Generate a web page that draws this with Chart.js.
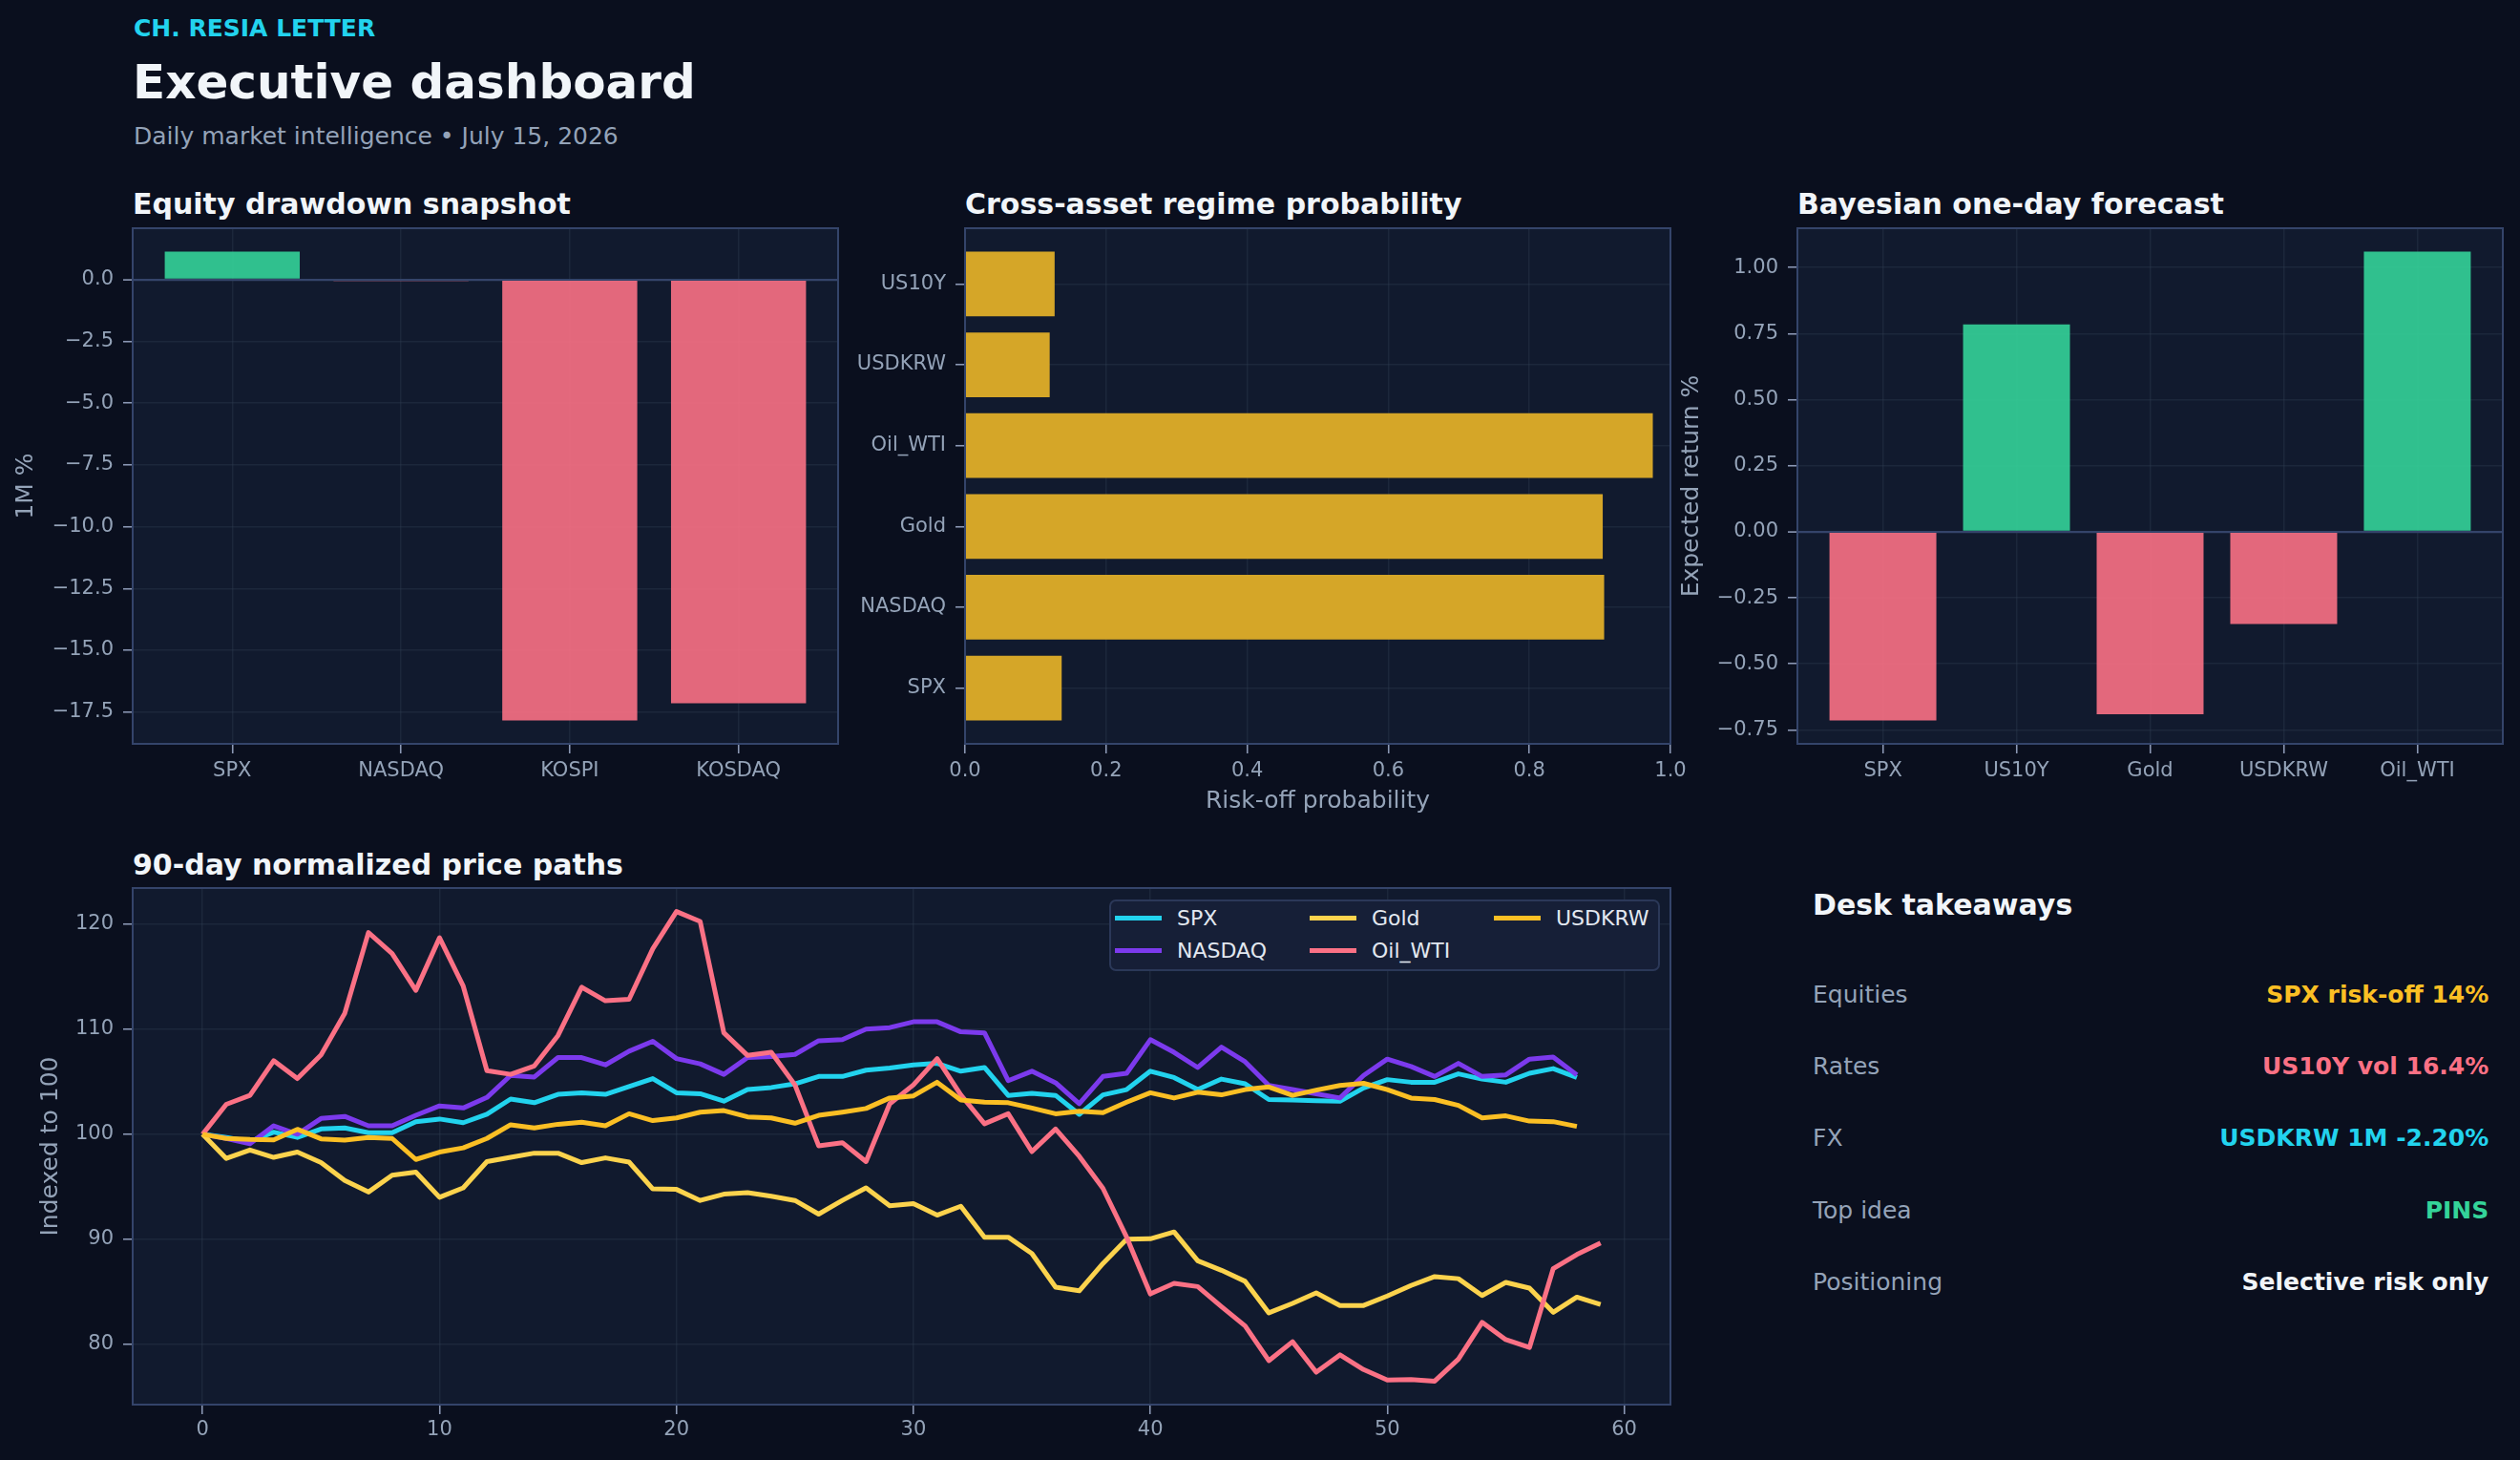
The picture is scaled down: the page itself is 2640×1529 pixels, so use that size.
<!DOCTYPE html>
<html>
<head>
<meta charset="utf-8">
<script src="https://cdn.jsdelivr.net/npm/chart.js@4.4.1/dist/chart.umd.min.js"></script>
<style>
html,body{margin:0;padding:0;background:#0a0f1e;}
#root{position:relative;width:2640px;height:1529px;overflow:hidden;background:#0a0f1e;font-family:"DejaVu Sans",sans-serif;}
.t{position:absolute;white-space:nowrap;line-height:1;}
canvas{position:absolute;}
.lg{position:absolute;left:1162px;top:942px;width:573px;height:71px;background:#161f37;border:2px solid #2b3858;border-radius:7px;}
.sw{position:absolute;height:5px;width:49px;}
</style>
</head>
<body>
<div id="root">
  <div class="t" style="left:140px;top:17px;font-size:25px;font-weight:bold;color:#22d3ee;">CH. RESIA LETTER</div>
  <div class="t" style="left:139px;top:60.7px;font-size:50px;font-weight:bold;color:#f1f5f9;">Executive dashboard</div>
  <div class="t" style="left:140px;top:130px;font-size:25px;color:#94a3b8;">Daily market intelligence • July 15, 2026</div>

  <div class="t" style="left:139px;top:198.6px;font-size:30px;font-weight:bold;color:#f1f5f9;">Equity drawdown snapshot</div>
  <div class="t" style="left:1011px;top:198.6px;font-size:30px;font-weight:bold;color:#f1f5f9;">Cross-asset regime probability</div>
  <div class="t" style="left:1883px;top:198.6px;font-size:30px;font-weight:bold;color:#f1f5f9;">Bayesian one-day forecast</div>
  <div class="t" style="left:139px;top:891px;font-size:30px;font-weight:bold;color:#f1f5f9;">90-day normalized price paths</div>

  <canvas id="c1" width="918" height="660" style="left:0px;top:200px;"></canvas>
  <canvas id="c2" width="920" height="660" style="left:870px;top:200px;"></canvas>
  <canvas id="c3" width="897" height="660" style="left:1743px;top:200px;"></canvas>
  <canvas id="c4" width="1790" height="639" style="left:0px;top:890px;"></canvas>

  <div class="lg"></div>
  <div id="legend"></div>

  <div class="t" style="left:1899px;top:932.9px;font-size:30px;font-weight:bold;color:#f1f5f9;">Desk takeaways</div>
  <div id="take"></div>
</div>
<script>
// ---------------- DATA ----------------
const equityLabels = ['SPX', 'NASDAQ', 'KOSPI', 'KOSDAQ'];
const equityValues = [1.13, -0.06, -17.84, -17.15];
const equityTicks = [0, -2.5, -5, -7.5, -10, -12.5, -15, -17.5];

const regimeLabels = ['SPX', 'NASDAQ', 'Gold', 'Oil_WTI', 'USDKRW', 'US10Y'];
const regimeValues = [0.137, 0.906, 0.904, 0.975, 0.120, 0.127];
const regimeTicks = [0, 0.2, 0.4, 0.6, 0.8, 1.0];

const forecastLabels = ['SPX', 'US10Y', 'Gold', 'USDKRW', 'Oil_WTI'];
const forecastValues = [-0.714, 0.785, -0.691, -0.349, 1.06];
const forecastTicks = [-0.75, -0.5, -0.25, 0, 0.25, 0.5, 0.75, 1.0];

const pathNames = ['SPX', 'NASDAQ', 'Gold', 'Oil_WTI', 'USDKRW'];
const spxPath = [100, 99.7, 99.3, 100.2, 99.7, 100.5, 100.6, 100.15, 100.15, 101.2, 101.45, 101.1, 101.9, 103.35, 103.0,
  103.8, 103.95, 103.8, 104.55, 105.3, 103.95, 103.85, 103.15, 104.25, 104.45, 104.8, 105.5, 105.5, 106.1, 106.3,
  106.6, 106.75, 106.0, 106.35, 103.7, 103.9, 103.7, 101.9, 103.75, 104.25, 106.0, 105.4, 104.25, 105.25,
  104.8, 103.3, 103.25, 103.2, 103.15, 104.4, 105.2, 104.95, 104.95, 105.75, 105.25, 104.95, 105.8, 106.25, 105.4];
const nasdaqPath = [100, 99.6, 99.1, 100.8, 100.0, 101.5, 101.7, 100.8, 100.8, 101.8, 102.7, 102.5, 103.5, 105.6, 105.45,
  107.3, 107.3, 106.6, 107.9, 108.85, 107.2, 106.7, 105.7, 107.3, 107.4, 107.6, 108.9, 109.0, 110.0, 110.15,
  110.7, 110.7, 109.75, 109.65, 105.1, 106.0, 104.9, 102.9, 105.5, 105.8, 109.0, 107.8, 106.35, 108.3,
  106.9, 104.65, 104.25, 103.85, 103.45, 105.6, 107.15, 106.45, 105.5, 106.75, 105.5, 105.65, 107.15, 107.35, 105.65];
const goldPath = [100, 97.7, 98.5, 97.8, 98.3, 97.3, 95.6, 94.5, 96.1, 96.4, 94.0, 94.9, 97.4, 97.8, 98.2,
  98.2, 97.3, 97.75, 97.35, 94.8, 94.75, 93.7, 94.3, 94.45, 94.1, 93.7, 92.4, 93.7, 94.9, 93.2,
  93.4, 92.3, 93.15, 90.2, 90.2, 88.65, 85.45, 85.1, 87.7, 90.0, 90.05, 90.7, 87.95, 87.05,
  86.0, 83.0, 83.9, 84.9, 83.7, 83.7, 84.6, 85.6, 86.45, 86.25, 84.65, 85.9, 85.35, 83.05, 84.5, 83.8];
const oilPath = [100, 102.85, 103.7, 107.0, 105.3, 107.55, 111.5, 119.2, 117.2, 113.7, 118.7, 114.1, 106.05, 105.7, 106.5,
  109.4, 114.0, 112.7, 112.85, 117.65, 121.2, 120.25, 109.65, 107.5, 107.8, 104.7, 98.9, 99.2, 97.4, 102.9,
  104.7, 107.2, 103.75, 101.0, 101.95, 98.35, 100.5, 97.9, 94.85, 90.2, 84.8, 85.8, 85.5, 83.6,
  81.75, 78.45, 80.25, 77.35, 79.0, 77.6, 76.6, 76.65, 76.5, 78.6, 82.1, 80.45, 79.7, 87.2, 88.55, 89.65];
const usdkrwPath = [100, 99.6, 99.5, 99.47, 100.47, 99.56, 99.44, 99.7, 99.6, 97.6, 98.3, 98.7, 99.6, 100.9, 100.6,
  100.95, 101.15, 100.8, 101.95, 101.3, 101.55, 102.1, 102.25, 101.65, 101.55, 101.05, 101.8, 102.1, 102.45, 103.45,
  103.65, 104.95, 103.25, 103.05, 103.0, 102.5, 101.95, 102.2, 102.05, 103.05, 103.95, 103.45, 104.0, 103.75,
  104.25, 104.5, 103.7, 104.2, 104.65, 104.85, 104.25, 103.45, 103.3, 102.75, 101.55, 101.75, 101.25, 101.2, 100.75];
const pathTicksX = [0, 10, 20, 30, 40, 50, 60];
const pathTicksY = [80, 90, 100, 110, 120];

const takeawayLabels = ['Equities', 'Rates', 'FX', 'Top idea', 'Positioning'];
const takeawayValues = ['SPX risk-off 14%', 'US10Y vol 16.4%', 'USDKRW 1M -2.20%', 'PINS', 'Selective risk only'];

// ---------------- STYLE ----------------
const AX_BG = '#111a2e';
const SPINE = '#34446a';
const GRID = 'rgba(51,65,85,0.34)';
const TICKC = '#94a3b8';
const TICKMARK = '#8b98b4';
const GREEN = 'rgba(52,211,153,0.9)';
const RED = 'rgba(251,113,133,0.9)';
const GOLD = '#d5a628';
const pathColors = ['#22d3ee', '#7c3aed', '#fcd34d', '#fb7185', '#fbbf24'];
const takeawayColors = ['#fbbf24', '#fb7185', '#22d3ee', '#34d399', '#f1f5f9'];
const TICKFONT = {family: 'DejaVu Sans', size: 21};
const AXFONT = {family: 'DejaVu Sans', size: 25};
Chart.defaults.font.family = 'DejaVu Sans';

function catRange(n) { const lo = -0.4, hi = n - 1 + 0.4, p = 0.05 * (hi - lo); return [lo - p, hi + p]; }
function valRange(vals) { const lo = Math.min(0, ...vals), hi = Math.max(0, ...vals), p = 0.05 * (hi - lo); return [lo - p, hi + p]; }
function fmt(v, d) { const s = Math.abs(v).toFixed(d); return v < -1e-9 ? '\u2212' + s : s; }

const frame = {
  id: 'frame',
  beforeDraw(c) { const a = c.chartArea, x = c.ctx; x.save(); x.fillStyle = AX_BG; x.fillRect(a.left, a.top, a.right - a.left, a.bottom - a.top); x.restore(); },
  afterDraw(c) { const a = c.chartArea, x = c.ctx; x.save(); x.strokeStyle = SPINE; x.lineWidth = 2; x.strokeRect(a.left, a.top, a.right - a.left, a.bottom - a.top); x.restore(); }
};

function gridOpts(zeroLine) {
  return {
    color: ctx => (zeroLine && ctx.tick && Math.abs(ctx.tick.value) < 1e-9) ? SPINE : GRID,
    lineWidth: ctx => (zeroLine && ctx.tick && Math.abs(ctx.tick.value) < 1e-9) ? 2.2 : 1.5,
    tickLength: 10, tickColor: TICKMARK, tickWidth: 1.6, offset: false, drawTicks: true
  };
}
function fixedTicks(arr) { return s => { s.ticks = arr.map(v => ({value: v})); }; }
const base = {responsive: false, animation: false, devicePixelRatio: 1,
  plugins: {legend: {display: false}, tooltip: {enabled: false}}};

// ---------------- CHART 1: equity ----------------
(function () {
  const [yMin, yMax] = valRange(equityValues);
  const [xMin, xMax] = catRange(equityLabels.length);
  new Chart(document.getElementById('c1'), {
    type: 'bar',
    data: {datasets: [{
      data: equityValues.map((v, i) => ({x: i, y: v})),
      backgroundColor: equityValues.map(v => v >= 0 ? GREEN : RED),
      borderWidth: 0, categoryPercentage: 1, barPercentage: 0.8
    }]},
    options: Object.assign({}, base, {
      layout: {padding: {top: 39, right: 40, left: 0, bottom: 0}},
      scales: {
        x: {type: 'linear', min: xMin, max: xMax, offset: false, z: 1,
          afterBuildTicks: fixedTicks(equityLabels.map((_, i) => i)),
          afterFit: s => { s.height = 81; },
          ticks: {callback: v => equityLabels[v], padding: 6, font: TICKFONT, color: TICKC, maxRotation: 0, autoSkip: false},
          grid: gridOpts(false), border: {display: false}},
        y: {type: 'linear', min: yMin, max: yMax, z: 1,
          afterBuildTicks: fixedTicks(equityTicks),
          afterFit: s => { s.width = 139; },
          ticks: {callback: v => fmt(v, 1), padding: 10, font: TICKFONT, color: TICKC, autoSkip: false},
          grid: gridOpts(true), border: {display: false},
          title: {display: true, text: '1M %', font: AXFONT, color: TICKC, padding: {top: 12, bottom: 0}}}
      }
    }),
    plugins: [frame]
  });
})();

// ---------------- CHART 2: regime ----------------
(function () {
  const [yMin, yMax] = catRange(regimeLabels.length);
  new Chart(document.getElementById('c2'), {
    type: 'bar',
    data: {datasets: [{
      data: regimeValues.map((v, i) => ({x: v, y: i})),
      backgroundColor: GOLD, borderWidth: 0, categoryPercentage: 1, barPercentage: 0.8
    }]},
    options: Object.assign({}, base, {
      indexAxis: 'y',
      layout: {padding: {top: 39, right: 40, left: 0, bottom: 0}},
      scales: {
        x: {type: 'linear', min: 0, max: 1, z: 1,
          afterBuildTicks: fixedTicks(regimeTicks),
          afterFit: s => { s.height = 81; },
          ticks: {callback: v => fmt(v, 1), padding: 6, font: TICKFONT, color: TICKC, maxRotation: 0, autoSkip: false},
          grid: gridOpts(false), border: {display: false},
          title: {display: true, text: 'Risk-off probability', font: AXFONT, color: TICKC, padding: {top: 0, bottom: 5.4}}},
        y: {type: 'linear', min: yMin, max: yMax, offset: false, z: 1,
          afterBuildTicks: fixedTicks(regimeLabels.map((_, i) => i)),
          afterFit: s => { s.width = 141; },
          ticks: {callback: v => regimeLabels[v], padding: 10, font: TICKFONT, color: TICKC, autoSkip: false},
          grid: gridOpts(false), border: {display: false}}
      }
    }),
    plugins: [frame]
  });
})();

// ---------------- CHART 3: forecast ----------------
(function () {
  const [yMin, yMax] = valRange(forecastValues);
  const [xMin, xMax] = catRange(forecastLabels.length);
  new Chart(document.getElementById('c3'), {
    type: 'bar',
    data: {datasets: [{
      data: forecastValues.map((v, i) => ({x: i, y: v})),
      backgroundColor: forecastValues.map(v => v >= 0 ? GREEN : RED),
      borderWidth: 0, categoryPercentage: 1, barPercentage: 0.8
    }]},
    options: Object.assign({}, base, {
      layout: {padding: {top: 39, right: 18, left: 0, bottom: 0}},
      scales: {
        x: {type: 'linear', min: xMin, max: xMax, offset: false, z: 1,
          afterBuildTicks: fixedTicks(forecastLabels.map((_, i) => i)),
          afterFit: s => { s.height = 81; },
          ticks: {callback: v => forecastLabels[v], padding: 6, font: TICKFONT, color: TICKC, maxRotation: 0, autoSkip: false},
          grid: gridOpts(false), border: {display: false}},
        y: {type: 'linear', min: yMin, max: yMax, z: 1,
          afterBuildTicks: fixedTicks(forecastTicks),
          afterFit: s => { s.width = 140; },
          ticks: {callback: v => fmt(v, 2), padding: 10, font: TICKFONT, color: TICKC, autoSkip: false},
          grid: gridOpts(true), border: {display: false},
          title: {display: true, text: 'Expected return %', font: AXFONT, color: TICKC, padding: {top: 14, bottom: 0}}}
      }
    }),
    plugins: [frame]
  });
})();

// ---------------- CHART 4: paths ----------------
(function () {
  const series = [spxPath, nasdaqPath, goldPath, oilPath, usdkrwPath];
  const all = [].concat(...series);
  const lo = Math.min(...all), hi = Math.max(...all), p = 0.05 * (hi - lo);
  const nMax = Math.max(...series.map(s => s.length)) - 1;
  new Chart(document.getElementById('c4'), {
    type: 'line',
    data: {datasets: series.map((s, k) => ({
      label: pathNames[k],
      data: s.map((v, i) => ({x: i, y: v})),
      borderColor: pathColors[k], backgroundColor: pathColors[k],
      borderWidth: 5, pointRadius: 0, tension: 0, fill: false,
      borderJoinStyle: 'round', borderCapStyle: 'butt',
      order: series.length - 1 - k
    }))},
    options: Object.assign({}, base, {
      layout: {padding: {top: 40, right: 40, left: 0, bottom: 0}},
      scales: {
        x: {type: 'linear', min: -0.05 * nMax, max: nMax * 1.05,
          afterBuildTicks: fixedTicks(pathTicksX),
          afterFit: s => { s.height = 58; },
          ticks: {callback: v => String(v), padding: 4.4, font: TICKFONT, color: TICKC, maxRotation: 0, autoSkip: false},
          grid: gridOpts(false), border: {display: false}},
        y: {type: 'linear', min: lo - p, max: hi + p,
          afterBuildTicks: fixedTicks(pathTicksY),
          afterFit: s => { s.width = 139; },
          ticks: {callback: v => String(v), padding: 10, font: TICKFONT, color: TICKC, autoSkip: false},
          grid: gridOpts(false), border: {display: false},
          title: {display: true, text: 'Indexed to 100', font: AXFONT, color: TICKC, padding: {top: 38.3, bottom: 0}}}
      }
    }),
    plugins: [frame]
  });
})();

// ---------------- legend (3 columns, column-major) ----------------
(function () {
  const colX = [1168, 1372, 1565];
  const rowY = [961.2, 995.4];
  const el = document.getElementById('legend');
  pathNames.forEach((n, i) => {
    const c = Math.floor(i / 2), r = i % 2;
    const sw = document.createElement('div');
    sw.className = 'sw';
    sw.style.left = colX[c] + 'px';
    sw.style.top = (rowY[r] - 2.5) + 'px';
    sw.style.background = pathColors[i];
    el.appendChild(sw);
    const t = document.createElement('div');
    t.className = 't';
    t.style.left = (colX[c] + 65) + 'px';
    t.style.top = (rowY[r] + 8.2 - 18.6) + 'px';
    t.style.fontSize = '22px';
    t.style.color = '#e2e8f0';
    t.textContent = n;
    el.appendChild(t);
  });
})();

// ---------------- takeaways ----------------
(function () {
  const el = document.getElementById('take');
  takeawayLabels.forEach((lab, i) => {
    const top = 1049.9 + 75.3 * i - 21.15;
    const a = document.createElement('div');
    a.className = 't';
    a.style.cssText = 'left:1899px;top:' + top + 'px;font-size:25px;color:#94a3b8;';
    a.textContent = lab;
    el.appendChild(a);
    const b = document.createElement('div');
    b.className = 't';
    b.style.cssText = 'right:32.7px;top:' + top + 'px;font-size:25px;font-weight:bold;text-align:right;color:' + takeawayColors[i] + ';';
    b.textContent = takeawayValues[i];
    el.appendChild(b);
  });
})();
</script>
</body>
</html>
